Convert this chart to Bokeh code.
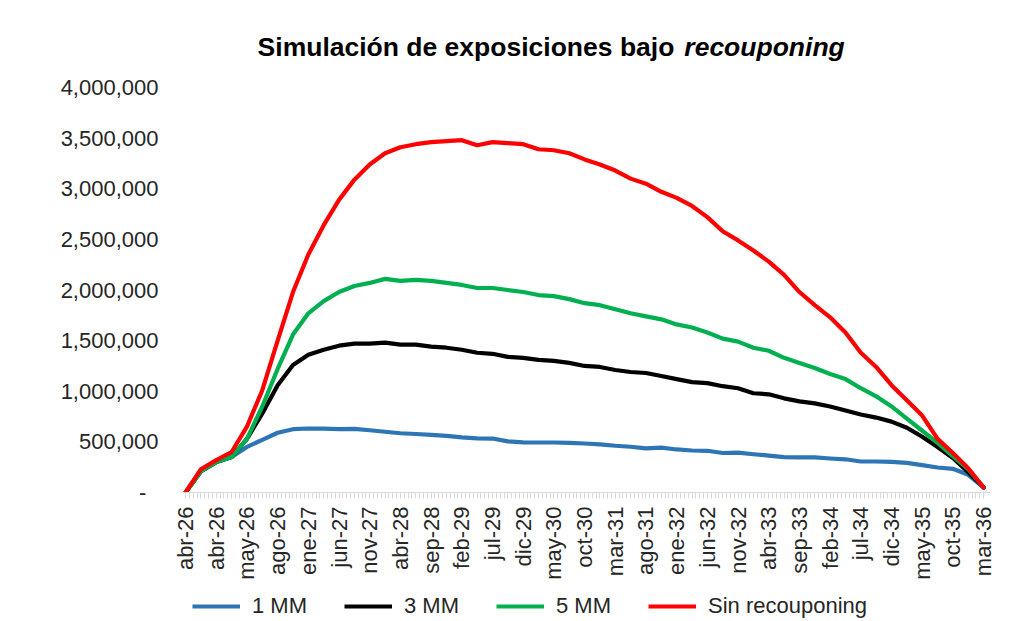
import math
from bokeh.plotting import figure
from bokeh.layouts import column
from bokeh.models import Range1d, FixedTicker, NumeralTickFormatter, Legend, LegendItem, Label
from bokeh.embed import file_html
from bokeh.resources import INLINE

# category index of each sampled point (8 categories between labelled ticks)
idx = list(range(0, 209, 4))

tick_labels = ["abr-26", "abr-26", "may-26", "ago-26", "ene-27", "jun-27", "nov-27",
               "abr-28", "sep-28", "feb-29", "jul-29", "dic-29", "may-30", "oct-30",
               "mar-31", "ago-31", "ene-32", "jun-32", "nov-32", "abr-33", "sep-33",
               "feb-34", "jul-34", "dic-34", "may-35", "oct-35", "mar-36"]

mm1 = [0, 210, 300, 350, 450, 520, 590, 625, 632, 630, 625, 628, 615, 600, 585, 578,
       570, 560, 545, 535, 533, 505, 495, 494, 494, 490, 484, 476, 462, 452, 436, 444,
       425, 415, 412, 390, 393, 378, 365, 350, 346, 346, 336, 328, 306, 306, 303, 292,
       270, 247, 234, 175, 50]
mm3 = [0, 210, 300, 350, 530, 780, 1060, 1260, 1360, 1410, 1450, 1470, 1470, 1480, 1460,
       1460, 1440, 1430, 1410, 1380, 1370, 1340, 1330, 1310, 1300, 1280, 1250, 1240, 1210,
       1190, 1180, 1150, 1120, 1090, 1080, 1050, 1030, 980, 970, 930, 900, 880, 850, 810,
       770, 740, 700, 640, 550, 450, 340, 200, 50]
mm5 = [0, 210, 300, 350, 530, 850, 1220, 1560, 1770, 1890, 1980, 2040, 2070, 2110, 2090,
       2100, 2090, 2070, 2050, 2020, 2020, 2000, 1980, 1950, 1940, 1910, 1870, 1850, 1810,
       1770, 1740, 1710, 1660, 1630, 1580, 1520, 1490, 1430, 1400, 1330, 1280, 1230, 1170,
       1120, 1030, 950, 850, 730, 610, 490, 360, 230, 50]
sin_rec = [0, 230, 320, 400, 650, 1010, 1500, 1980, 2350, 2640, 2890, 3090, 3240, 3350,
           3410, 3440, 3460, 3470, 3480, 3430, 3460, 3450, 3440, 3390, 3380, 3350, 3290,
           3240, 3180, 3100, 3050, 2970, 2910, 2830, 2720, 2580, 2490, 2390, 2280, 2150,
           1980, 1850, 1730, 1580, 1380, 1240, 1060, 910, 760, 530, 390, 240, 50]

series = [("1 MM", mm1, "#2E75B6"), ("3 MM", mm3, "#000000"),
          ("5 MM", mm5, "#00B050"), ("Sin recouponing", sin_rec, "#FF0000")]

FONT = "Liberation Sans"
PX_PER_UNIT = 405 / 4000000.0  # pixels per data unit on y
Y_TOP = 4000000 + (87 - 18) / PX_PER_UNIT

p = figure(width=1020, height=582, output_backend="svg", toolbar_location=None,
           x_range=Range1d(-0.8, 209.8), y_range=Range1d(0, Y_TOP),
           min_border_left=182, min_border_right=30, min_border_top=18, min_border_bottom=90)
p.outline_line_color = None
p.xgrid.visible = False
p.ygrid.visible = False
p.background_fill_color = "white"
p.border_fill_color = "white"

for name, vals, col in series:
    p.line(idx, [v * 1000 for v in vals], line_color=col, line_width=4.2,
           line_join="round", line_cap="round")

# x axis
n_cat = 209
major = list(range(0, n_cat, 8))
p.xaxis.ticker = FixedTicker(ticks=major, minor_ticks=list(range(n_cat)))
p.xaxis.major_label_overrides = {m: lab for m, lab in zip(major, tick_labels)}
p.xaxis.major_label_orientation = math.pi / 2
p.xaxis.axis_line_color = "#D9D9D9"
p.xaxis.major_tick_line_color = "#D9D9D9"
p.xaxis.minor_tick_line_color = "#D9D9D9"
p.xaxis.major_tick_in = 0
p.xaxis.major_tick_out = 6
p.xaxis.minor_tick_in = 0
p.xaxis.minor_tick_out = 6
p.xaxis.major_label_standoff = 8
p.xaxis.major_label_text_font = FONT
p.xaxis.major_label_text_font_size = "22px"
p.xaxis.major_label_text_color = "#262626"

# y axis
p.yaxis.ticker = FixedTicker(ticks=list(range(0, 4000001, 500000)))
p.yaxis.formatter = NumeralTickFormatter(format="0,0")
p.yaxis.major_label_overrides = {0: "-\u00a0\u00a0"}
p.yaxis.axis_line_color = None
p.yaxis.major_tick_line_color = None
p.yaxis.minor_tick_line_color = None
p.yaxis.major_label_standoff = 18
p.yaxis.major_label_text_font = FONT
p.yaxis.major_label_text_font_size = "22px"
p.yaxis.major_label_text_color = "#262626"

title_y = 4000000 + 41 / PX_PER_UNIT
t1 = Label(x=127.4, y=title_y, text="Simulación de exposiciones bajo",
           text_font=FONT, text_font_size="26.5px", text_font_style="bold",
           text_align="right", text_baseline="alphabetic", text_color="#000000")
t2 = Label(x=130.0, y=title_y, text="recouponing",
           text_font=FONT, text_font_size="26.5px", text_font_style="bold italic",
           text_align="left", text_baseline="alphabetic", text_color="#000000")
p.add_layout(t1)
p.add_layout(t2)

# legend strip below the chart (its lines lie outside its own view)
lg = figure(width=1020, height=38, output_backend="svg", toolbar_location=None,
            x_range=Range1d(500, 501), y_range=Range1d(0, 1),
            min_border_left=0, min_border_right=0, min_border_top=0, min_border_bottom=0)
lg.axis.visible = False
lg.grid.visible = False
lg.outline_line_color = None
items = []
for name, vals, col in series:
    r = lg.line(idx, vals, line_color=col, line_width=4.2)
    items.append(LegendItem(label=name, renderers=[r]))
legend = Legend(items=items, orientation="horizontal", location=(10, 1),
                label_text_font=FONT, label_text_font_size="22px",
                label_text_color="#262626", glyph_width=48, glyph_height=22,
                label_height=22, label_standoff=12, spacing=37, padding=0, margin=0,
                border_line_color=None, background_fill_alpha=0)
lg.add_layout(legend, "center")

open("out.html", "w").write(file_html(column(p, lg), INLINE))
